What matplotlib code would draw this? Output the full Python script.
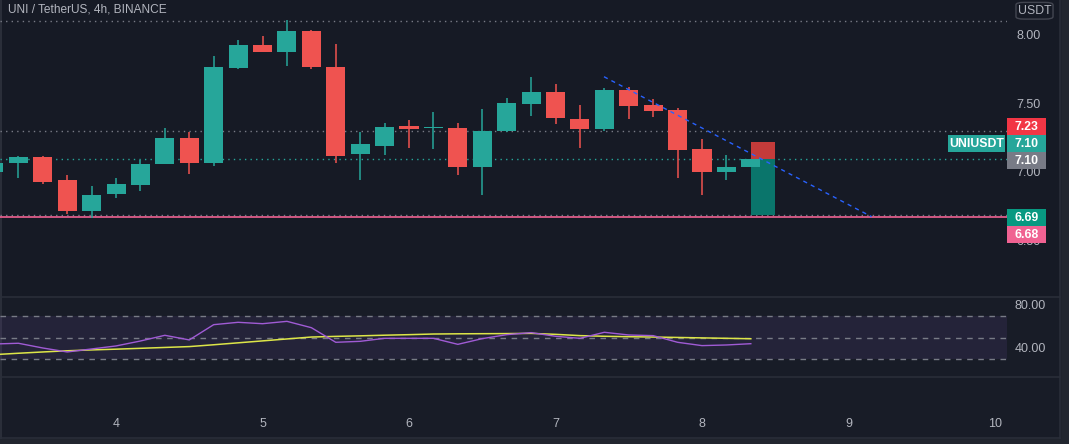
import matplotlib
matplotlib.use("Agg")
import matplotlib.pyplot as plt
from matplotlib.patches import Rectangle, FancyBboxPatch
from matplotlib.lines import Line2D

# --- datos (velas de 4h, precio en USDT) ---
opens = [7.01, 7.075, 7.117, 6.949, 6.725, 6.849, 6.915, 7.068, 7.255, 7.075,
         7.769, 7.934, 7.885, 8.036, 7.774, 7.139, 7.197, 7.343, 7.326, 7.328,
         7.044, 7.307, 7.504, 7.591, 7.394, 7.321, 7.606, 7.496, 7.460, 7.175,
         7.007, 7.044]
highs = [7.09, 7.124, 7.124, 6.985, 6.905, 6.964, 7.093, 7.328, 7.299, 7.854,
         7.971, 8.000, 8.117, 8.044, 7.942, 7.299, 7.365, 7.387, 7.445, 7.365,
         7.467, 7.547, 7.701, 7.650, 7.496, 7.620, 7.628, 7.540, 7.474, 7.248,
         7.131, 7.100]
lows = [6.99, 6.966, 6.922, 6.703, 6.674, 6.820, 6.871, 7.066, 6.995, 7.053,
        7.759, 7.885, 7.783, 7.759, 7.075, 6.949, 7.131, 7.182, 7.175, 6.985,
        6.839, 7.301, 7.416, 7.358, 7.182, 7.307, 7.394, 7.409, 6.964, 6.839,
        6.949, 7.044]
closes = [7.075, 7.117, 6.936, 6.725, 6.839, 6.920, 7.066, 7.255, 7.075, 7.774,
          7.934, 7.885, 8.036, 7.774, 7.124, 7.212, 7.336, 7.321, 7.330, 7.044,
          7.307, 7.511, 7.591, 7.401, 7.321, 7.606, 7.489, 7.453, 7.168, 7.007,
          7.044, 7.100]

rsi = [44.2, 44.9, 40.5, 36.8, 39.6, 42.4, 47.0, 52.3, 48.0, 62.2,
       64.4, 63.1, 65.3, 59.4, 45.8, 46.7, 49.5, 49.5, 49.5, 43.9,
       49.2, 52.9, 54.8, 51.4, 49.5, 55.1, 52.6, 52.0, 45.8, 42.7,
       43.3, 44.5]
rsi_ma = [34.3, 35.6, 36.8, 37.9, 38.7, 39.4, 40.2, 41.0, 41.8, 43.5,
          45.3, 47.1, 48.9, 50.7, 51.3, 51.8, 52.4, 52.9, 53.5, 53.7,
          53.8, 53.9, 54.1, 53.2, 52.0, 51.4, 51.0, 50.7, 50.3, 49.9,
          49.5, 49.1]

dias = [4, 5, 6, 7, 8, 9, 10]
precios_eje = [8.00, 7.50, 7.00, 6.50]
rsi_eje = [80, 40]

precio_actual = 7.10
stop = 7.23
objetivo = 6.69
soporte = 6.68
linea_max = 8.113
linea_media = 7.307
tendencia_x = [7.331, 9.158]
tendencia_y = [7.703, 6.681]
posicion_x = [8.3333, 8.5]

# --- colores ---
FONDO = "#161a25"
FONDO_RSI = "#181c27"
BORDE = "#2a2e39"
TEXTO = "#b2b5be"
VERDE = "#26a69a"
ROJO = "#ef5350"

W, H = 1069, 444


def rect(x0, y0, x1, y1):
    return [x0 / W, 1 - y1 / H, (x1 - x0) / W, (y1 - y0) / H]


fig = plt.figure(figsize=(W / 100, H / 100), dpi=100, facecolor="#22262f")
plt.rcParams["font.family"] = ["Liberation Sans", "DejaVu Sans"]

# fondos de los paneles (detras de los ejes)
fig.patches.append(Rectangle((0, 1 - 297 / H), 1060 / W, 297 / H,
                             transform=fig.transFigure, color=FONDO, zorder=-5))
fig.patches.append(Rectangle((0, 1 - 438 / H), 1060 / W, 141 / H,
                             transform=fig.transFigure, color=FONDO_RSI, zorder=-5))
for yy in [297, 377, 438]:
    fig.lines.append(Line2D([0, 1060 / W], [1 - yy / H] * 2, transform=fig.transFigure,
                            color=BORDE, lw=1.2, zorder=-4))
fig.lines.append(Line2D([1060 / W] * 2, [1 - 438 / H, 1], transform=fig.transFigure,
                        color=BORDE, lw=1.2, zorder=-4))
fig.lines.append(Line2D([1 / W] * 2, [1 - 438 / H, 1], transform=fig.transFigure,
                        color=BORDE, lw=1.5, zorder=-4))

XMIN, XMAX = 3.208, 10.082

ax = fig.add_axes(rect(0, 0, 1007, 297))
ax.set_xlim(XMIN, XMAX)
ax.set_ylim(6.095, 8.263)
ax.patch.set_alpha(0)
ax.axis("off")

# velas
ancho = 0.13
xs = [3 + (i + 1) / 6 for i in range(len(opens))]
for x, o, h, l, c in zip(xs, opens, highs, lows, closes):
    col = VERDE if c >= o else ROJO
    ax.plot([x, x], [l, h], color=col, lw=1.1, zorder=4, solid_capstyle="butt")
    alto = max(abs(c - o), 0.008)
    ax.add_patch(Rectangle((x - ancho / 2, min(o, c)), ancho, alto,
                           color=col, lw=0, zorder=5))

# herramienta de posicion corta
ax.add_patch(Rectangle((posicion_x[0], precio_actual), posicion_x[1] - posicion_x[0],
                       stop - precio_actual, color="#c43b3a", lw=0, zorder=3))
ax.add_patch(Rectangle((posicion_x[0], objetivo), posicion_x[1] - posicion_x[0],
                       precio_actual - objetivo, color="#0a756b", lw=0, zorder=3))

# lineas horizontales
ax.axhline(linea_max, color="#787b86", lw=1, ls=(0, (1, 3)), zorder=2)
ax.axhline(linea_media, color="#787b86", lw=1, ls=(0, (1, 3)), zorder=2)
ax.axhline(precio_actual, color=VERDE, lw=1, ls=(0, (1, 3)), zorder=2)
ax.axhline(objetivo + 0.007, color="#787b86", lw=1, ls=(0, (1, 3)), zorder=2)
ax.axhline(soporte, color="#f06292", lw=1.2, zorder=2)

# linea de tendencia
ax.plot(tendencia_x, tendencia_y, color="#2962ff", lw=1, ls=(0, (3, 3)), zorder=6)

# titulo
ax.text(8 / 1007, 1 - 10 / 297, "UNI / TetherUS, 4h, BINANCE", transform=ax.transAxes,
        color=TEXTO, fontsize=8.6, va="center", ha="left")

# eje de precios
for p in precios_eje:
    ax.text(1041 / 1007, p, f"{p:.2f}", color=TEXTO, fontsize=9, ha="right",
            va="center", clip_on=False, transform=ax.get_yaxis_transform())


def etiqueta(y_px, texto, color, x0=1007, x1=1046):
    yc = 1 - y_px / 297
    ax.add_patch(Rectangle((x0 / 1007, yc - 8.5 / 297), (x1 - x0) / 1007, 17 / 297,
                           transform=ax.transAxes, color=color, lw=0, clip_on=False,
                           zorder=8))
    ax.text((x0 + x1) / 2 / 1007, yc, texto, transform=ax.transAxes, color="white",
            fontsize=8.8, fontweight="bold", ha="center", va="center",
            clip_on=False, zorder=9)


etiqueta(126.5, f"{stop:.2f}", "#f23645")
etiqueta(143.5, f"{precio_actual:.2f}", VERDE)
etiqueta(143.5, "UNIUSDT", VERDE, 948, 1005)
etiqueta(160.5, f"{precio_actual:.2f}", "#787b86")
etiqueta(217.5, f"{objetivo:.2f}", "#089981")
etiqueta(234.5, f"{soporte:.2f}", "#f06292")

ax.add_patch(FancyBboxPatch((1018 / 1007, 1 - 18.5 / 297), 33 / 1007, 15.5 / 297,
                            boxstyle="round,pad=0.002,rounding_size=0.008",
                            transform=ax.transAxes, fc=FONDO, ec="#434651", lw=1,
                            clip_on=False, zorder=8))
ax.text(1034.5 / 1007, 1 - 11 / 297, "USDT", transform=ax.transAxes, color=TEXTO,
        fontsize=8.8, ha="center", va="center", clip_on=False, zorder=9)

# --- panel RSI ---
ax_rsi = fig.add_axes(rect(0, 297, 1007, 377))
ax_rsi.set_xlim(XMIN, XMAX)
ax_rsi.set_ylim(13.5, 87.95)
ax_rsi.patch.set_alpha(0)
ax_rsi.axis("off")
ax_rsi.axhspan(30, 70, color="#7e57c2", alpha=0.12, lw=0)
for nivel in [70, 50, 30]:
    ax_rsi.axhline(nivel, color="#787b86", lw=1, ls=(0, (4, 4)))
ax_rsi.plot(xs, rsi_ma, color="#dde648", lw=1.1, zorder=3)
ax_rsi.plot(xs, rsi, color="#a05bd5", lw=1, zorder=4)
for v in rsi_eje:
    ax_rsi.text(1046 / 1007, v, f"{v:.2f}", color=TEXTO, fontsize=9, ha="right",
                va="center", clip_on=False, transform=ax_rsi.get_yaxis_transform())

# --- eje de tiempo ---
ax_t = fig.add_axes(rect(0, 377, 1007, 438))
ax_t.set_xlim(XMIN, XMAX)
ax_t.set_ylim(0, 1)
ax_t.patch.set_alpha(0)
ax_t.axis("off")
for d in dias:
    ax_t.text(d, 1 - 47 / 61, str(d), color=TEXTO, fontsize=9, ha="center",
              va="center")

fig.savefig("out.png", dpi=100, facecolor=fig.get_facecolor())
